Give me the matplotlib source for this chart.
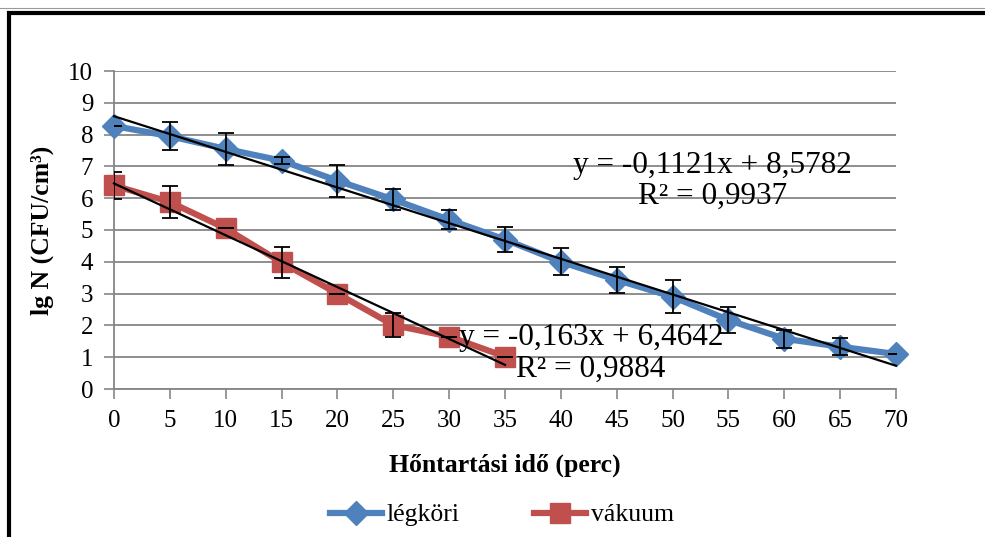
import matplotlib
matplotlib.use("Agg")
import matplotlib.pyplot as plt
from matplotlib.lines import Line2D
from matplotlib.patches import Rectangle
import numpy as np

plt.rcParams['font.family'] = ['Liberation Serif', 'DejaVu Serif']

# Data
time_air = [0, 5, 10, 15, 20, 25, 30, 35, 40, 45, 50, 55, 60, 65, 70]
lg_air = [8.27, 7.95, 7.55, 7.18, 6.55, 5.96, 5.32, 4.70, 4.00, 3.43, 2.90, 2.17, 1.58, 1.33, 1.10]
err_air = [0.0, 0.44, 0.50, 0.12, 0.50, 0.34, 0.30, 0.38, 0.42, 0.42, 0.52, 0.42, 0.28, 0.26, 0.0]

time_vac = [0, 5, 10, 15, 20, 25, 30, 35]
lg_vac = [6.40, 5.88, 5.05, 3.98, 3.00, 2.01, 1.65, 1.02]
err_vac = [0.43, 0.50, 0.0, 0.50, 0.0, 0.37, 0.0, 0.0]

fit_air = (-0.1121, 8.5782)
fit_vac = (-0.163, 6.4642)
eq_air = "y = -0,1121x + 8,5782\nR² = 0,9937"
eq_vac = "y = -0,163x + 6,4642\nR² = 0,9884"

series_names = ["légköri", "vákuum"]
xticks = list(range(0, 75, 5))
yticks = list(range(0, 11))

blue = "#4F81BD"
red = "#C0504D"
grid_c = "#868686"

fig = plt.figure(figsize=(9.85, 5.37), dpi=100)
ax = fig.add_axes([114/985, 1-389/537, (896-114)/985, (389-71)/537])

# frame
fig.patches.append(Rectangle((9/985, -0.05), 1.2, (1-12.5/537) + 0.05, transform=fig.transFigure,
                             fill=False, edgecolor='black', linewidth=3.0))
fig.add_artist(Line2D([0, 1], [1-8/537, 1-8/537], transform=fig.transFigure, color='#999999', lw=0.8))

ax.set_xlim(0, 70)
ax.set_ylim(0, 10)
ax.set_xticks(xticks)
ax.set_yticks(yticks)
ax.tick_params(axis='both', labelsize=18, color=grid_c, width=1.2, length=7, direction='out', pad=8)
ax.tick_params(axis='y', length=7, pad=8)
for s in ['top', 'right']:
    ax.spines[s].set_visible(False)
for s in ['left', 'bottom']:
    ax.spines[s].set_color(grid_c)
    ax.spines[s].set_linewidth(1.3)
ax.yaxis.grid(True, color=grid_c, linewidth=1.3)
ax.set_axisbelow(True)

ax.plot(time_air, lg_air, color=blue, lw=4.5, marker='D', markersize=12.5, zorder=3, clip_on=False)
ax.plot(time_vac, lg_vac, color=red, lw=4.5, marker='s', markersize=15, zorder=3, clip_on=False)

ax.errorbar(time_air, lg_air, yerr=err_air, fmt='none', ecolor='black', elinewidth=1.3, capsize=5.5, capthick=1.3, zorder=4)
ax.errorbar(time_vac, lg_vac, yerr=err_vac, fmt='none', ecolor='black', elinewidth=1.3, capsize=5.5, capthick=1.3, zorder=4)

xa = np.array([time_air[0], time_air[-1]])
ax.plot(xa, fit_air[0]*xa + fit_air[1], color='black', lw=1.6, zorder=5, clip_on=False)
xv = np.array([time_vac[0], time_vac[-1]])
ax.plot(xv, fit_vac[0]*xv + fit_vac[1], color='black', lw=1.6, zorder=5, clip_on=False)

ax.text(53.6, 6.55, eq_air, ha='center', va='center', fontsize=22.5, linespacing=1.1, zorder=6)
ax.text(42.7, 1.12, eq_vac, ha='center', va='center', fontsize=22.5, linespacing=1.1, zorder=6)

fig.text(505/985, 1-465/537, "Hőntartási idő (perc)", ha='center', va='center', fontsize=18.5, fontweight='bold')
fig.text(42/985, 1-230/537, "lg N (CFU/cm³)", ha='center', va='center', fontsize=18.5,
         fontweight='bold', rotation=90)

handles = [Line2D([], [], color=blue, lw=4.5, marker='D', markersize=12.5),
           Line2D([], [], color=red, lw=4.5, marker='s', markersize=15)]
fig.legend(handles, series_names, loc='center', bbox_to_anchor=(502/985, 1-515/537), ncol=2,
           frameon=False, fontsize=18.5, handlelength=2.0, columnspacing=2.9, handletextpad=0.2)

fig.savefig("out.png", dpi=100)
